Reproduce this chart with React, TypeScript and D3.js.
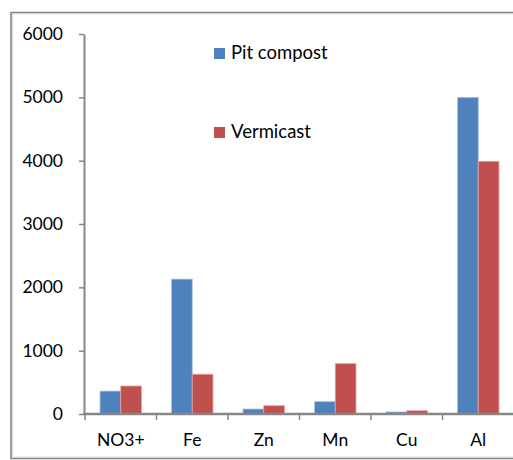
import { useRef, useEffect } from "react";
import * as d3 from "d3";

// data
const categories = ["NO3+", "Fe", "Zn", "Mn", "Cu", "Al"];
const seriesNames = ["Pit compost", "Vermicast"];
const pitCompost = [362, 2130, 79, 195, 32, 5000];
const vermicast = [442, 628, 131, 795, 52, 3990];
const yTicks = [0, 1000, 2000, 3000, 4000, 5000, 6000];
const colors = ["#4F81BD", "#C0504D"];
const edgeColors = ["#A9C4E6", "#E3A5A3"];

export default function App() {
  const ref = useRef<SVGSVGElement>(null);

  function drawChart() {
    const width = 513,
      height = 460;
    const margin = { top: 34, right: -1, bottom: 46, left: 84 };
    const svg = d3.select(ref.current);
    svg.selectAll("*").remove();

    const font = "Lato, 'Open Sans', sans-serif";

    // outer frame
    svg
      .append("rect")
      .attr("x", 11)
      .attr("y", 12.5)
      .attr("width", 520)
      .attr("height", 446)
      .attr("fill", "#fff")
      .attr("stroke", "#7f7f7f")
      .attr("stroke-width", 1.5);
    svg
      .append("rect")
      .attr("x", 12.5)
      .attr("y", 14)
      .attr("width", 520)
      .attr("height", 443)
      .attr("fill", "none")
      .attr("stroke", "#d9d9d9")
      .attr("stroke-width", 1);

    const x = d3
      .scaleBand()
      .domain(categories)
      .range([margin.left + 1, width - margin.right])
      .paddingInner(0.42)
      .paddingOuter(0.21);
    const x1 = d3.scaleBand().domain(seriesNames).range([0, x.bandwidth()]);
    const y = d3
      .scaleLinear()
      .domain([0, 6000])
      .range([height - margin.bottom, margin.top]);

    const series = [pitCompost, vermicast];

    // bars
    const g = svg
      .append("g")
      .selectAll("g")
      .data(categories)
      .join("g")
      .attr("transform", (d) => `translate(${x(d)},0)`);
    g.selectAll("rect")
      .data((d, i) => series.map((s, k) => ({ k, v: s[i] })))
      .join("rect")
      .attr("x", (d) => x1(seriesNames[d.k])!)
      .attr("width", x1.bandwidth())
      .attr("y", (d) => y(d.v))
      .attr("height", (d) => y(0) - y(d.v))
      .attr("fill", (d) => colors[d.k])
      .attr("stroke", (d) => edgeColors[d.k])
      .attr("stroke-width", 0.8);

    // y axis
    const yAxis = svg
      .append("g")
      .attr("transform", `translate(${margin.left},0)`)
      .call(
        d3
          .axisLeft(y)
          .tickValues(yTicks)
          .tickFormat(d3.format("d"))
          .tickSize(5)
          .tickPadding(16)
          .tickSizeOuter(0)
      );
    yAxis.select(".domain").attr("stroke", "#868686").attr("stroke-width", 2);
    yAxis.selectAll(".tick line").attr("stroke", "#868686").attr("stroke-width", 1.5);
    yAxis
      .selectAll(".tick text")
      .attr("font-family", font)
      .attr("font-size", 17.5)
      .attr("fill", "#000");

    // x axis
    const xAxis = svg
      .append("g")
      .attr("transform", `translate(0,${y(0)})`)
      .call(d3.axisBottom(x).tickSize(0).tickPadding(20).tickSizeOuter(0));
    xAxis
      .select(".domain")
      .attr("d", `M${margin.left - 1},0H${width + 2}`)
      .attr("stroke", "#868686")
      .attr("stroke-width", 2.5);
    xAxis
      .selectAll(".tick text")
      .attr("font-family", font)
      .attr("font-size", 17.5)
      .attr("fill", "#000");
    const step = x.step();
    const divs = d3.range(categories.length + 1).map((i) => x.range()[0] + i * step);
    xAxis
      .append("g")
      .selectAll("line")
      .data(divs)
      .join("line")
      .attr("x1", (d) => d)
      .attr("x2", (d) => d)
      .attr("y1", 0)
      .attr("y2", 6)
      .attr("stroke", "#868686")
      .attr("stroke-width", 1.5);

    // legend
    const legend = svg
      .append("g")
      .selectAll("g")
      .data(seriesNames)
      .join("g")
      .attr("transform", (d, i) => `translate(214,${48 + i * 79})`);
    legend
      .append("rect")
      .attr("width", 11)
      .attr("height", 11)
      .attr("fill", (d, i) => colors[i]);
    legend
      .append("text")
      .attr("x", 17)
      .attr("y", 11)
      .attr("font-family", font)
      .attr("font-size", 18.5)
      .attr("fill", "#000")
      .text((d) => d);
  }

  useEffect(drawChart, []);
  return (
    <div style={{ position: "absolute", left: 0, top: 0 }}>
      <svg ref={ref} width={513} height={460} style={{ display: "block" }}></svg>
    </div>
  );
}
